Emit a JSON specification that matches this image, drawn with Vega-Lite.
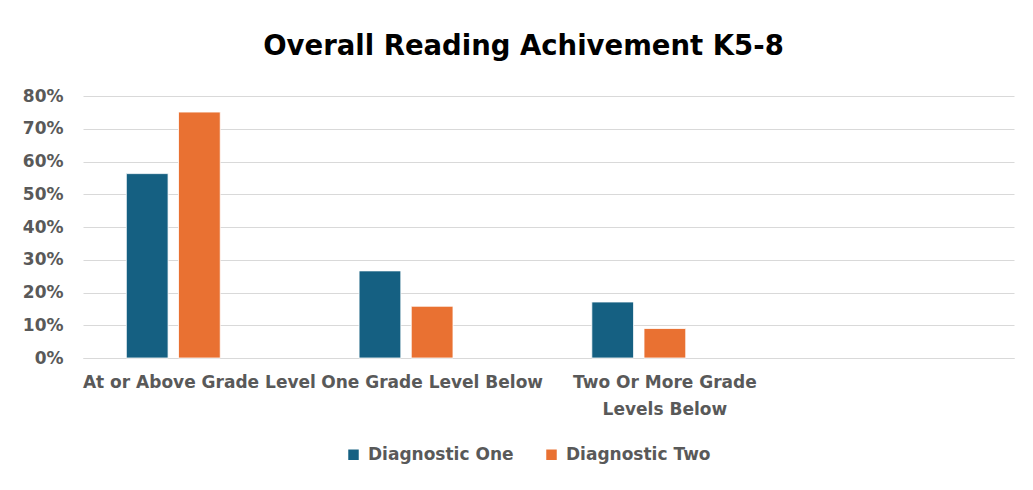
{
  "$schema": "https://vega.github.io/schema/vega-lite/v6.json",
  "width": 931,
  "height": 262,
  "autosize": {"type": "none"},
  "padding": {"left": 83, "top": 96, "right": 19, "bottom": 132},
  "background": "white",
  "title": {
    "text": "Overall Reading Achivement K5-8",
    "anchor": "middle",
    "fontSize": 27.5,
    "font": "DejaVu Sans",
    "fontWeight": "bold",
    "color": "#000000",
    "offset": 27,
    "dx": -25
  },
  "data": {
    "values": [
      {"level": "At or Above Grade Level", "series": "Diagnostic One", "value": 0.563},
      {"level": "At or Above Grade Level", "series": "Diagnostic Two", "value": 0.751},
      {"level": "One Grade Level Below", "series": "Diagnostic One", "value": 0.266},
      {"level": "One Grade Level Below", "series": "Diagnostic Two", "value": 0.158},
      {"level": "Two Or More Grade Levels Below", "series": "Diagnostic One", "value": 0.171},
      {"level": "Two Or More Grade Levels Below", "series": "Diagnostic Two", "value": 0.090}
    ]
  },
  "mark": {"type": "bar", "stroke": "white", "strokeWidth": 0.8},
  "encoding": {
    "x": {
      "field": "level",
      "type": "nominal",
      "sort": null,
      "scale": {
        "domain": ["At or Above Grade Level", "One Grade Level Below", "Two Or More Grade Levels Below", " "],
        "paddingInner": 0,
        "paddingOuter": 0
      },
      "axis": {
        "title": null,
        "labelAngle": 0,
        "ticks": false,
        "domain": true,
        "domainColor": "#d9d9d9",
        "labelFont": "DejaVu Sans",
        "labelFontSize": 17,
        "labelFontWeight": "bold",
        "labelColor": "#595959",
        "labelPadding": 16,
        "labelLineHeight": 27,
        "labelLimit": 300,
        "labelExpr": "datum.value == 'Two Or More Grade Levels Below' ? ['Two Or More Grade', 'Levels Below'] : datum.value"
      }
    },
    "xOffset": {
      "field": "series",
      "type": "nominal",
      "scale": {
        "domain": ["Diagnostic One", "Diagnostic Two", "Blank"],
        "paddingInner": 0.2,
        "paddingOuter": 0.83
      }
    },
    "y": {
      "field": "value",
      "type": "quantitative",
      "scale": {"domain": [0, 0.8], "nice": false},
      "axis": {
        "title": null,
        "format": ".0%",
        "values": [0, 0.1, 0.2, 0.3, 0.4, 0.5, 0.6, 0.7, 0.8],
        "ticks": false,
        "domain": false,
        "gridColor": "#d9d9d9",
        "gridWidth": 1.2,
        "labelFont": "DejaVu Sans",
        "labelFontSize": 17,
        "labelFontWeight": "bold",
        "labelColor": "#595959",
        "labelPadding": 20
      }
    },
    "color": {
      "field": "series",
      "type": "nominal",
      "scale": {
        "domain": ["Diagnostic One", "Diagnostic Two"],
        "range": ["#156082", "#E97132"]
      },
      "legend": {
        "title": null,
        "orient": "none",
        "direction": "horizontal",
        "legendX": 262,
        "legendY": 350,
        "symbolType": "square",
        "symbolSize": 110,
        "symbolStrokeWidth": 0,
        "labelFont": "DejaVu Sans",
        "labelFontSize": 17,
        "labelFontWeight": "bold",
        "labelColor": "#595959",
        "labelOffset": 6,
        "columnPadding": 29
      }
    }
  },
  "config": {
    "view": {"stroke": null}
  }
}
